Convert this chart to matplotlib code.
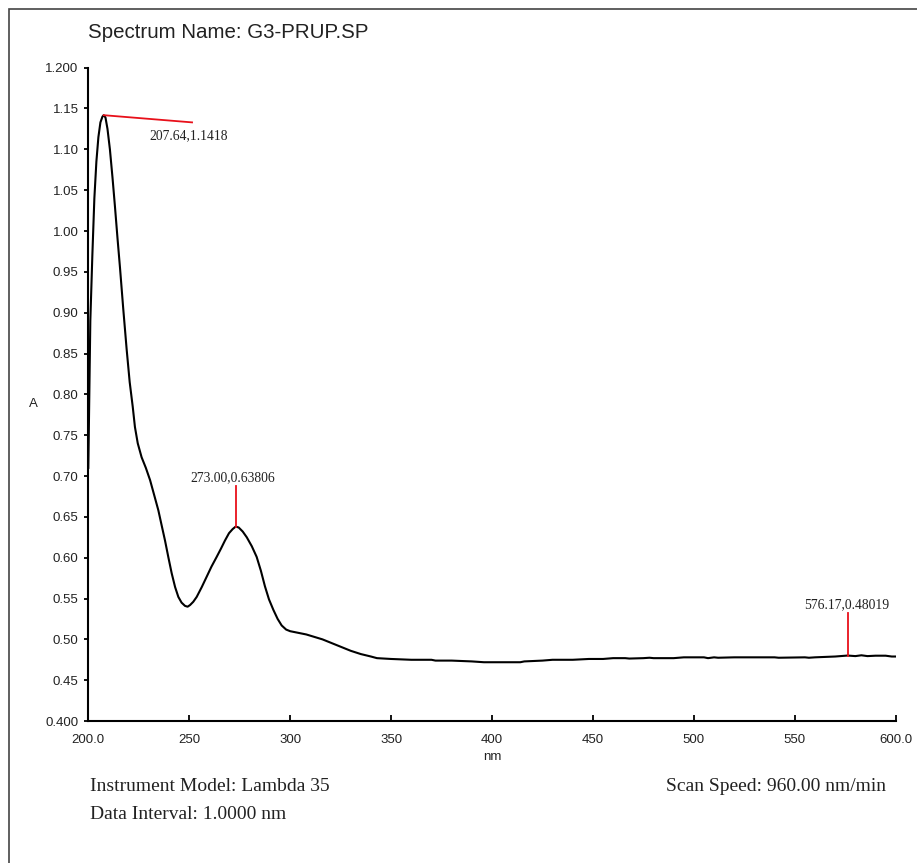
import matplotlib.pyplot as plt
from matplotlib.patches import Rectangle

# ---------------- spectrum data (nm, absorbance) ----------------
wavelength = [200, 201, 202, 203, 204, 205, 206, 207, 207.64, 208.5, 209.5,
              210.7, 212, 213.2, 214.5, 215.7, 217.3, 219, 220.5, 222, 223.1,
              224.5, 226.4, 228.5, 230.6, 232.6, 234.7, 236.3, 238, 239.7,
              241.3, 243, 244.6, 246.2, 247.9, 249.2, 250.4, 252, 253.7, 256.2,
              258.7, 261, 263.6, 265.7, 267.7, 269.7, 271.5, 273, 274.5, 276.5,
              278.5, 281, 283.4, 285.5, 287.5, 289.5, 291.7, 293.8, 295.8, 298,
              300, 304, 308, 312, 316, 320, 325, 330, 335, 340, 343, 350, 360,
              370, 372, 380, 390, 396, 405, 414, 416, 425, 430, 440, 448, 455,
              460, 466, 468, 475, 478, 480, 490, 495, 505, 507, 510, 512, 520,
              540, 542, 555, 557, 560, 565, 570, 576.17, 580, 583, 586, 590, 595,
              598, 600]
absorbance = [0.710, 0.890, 0.970, 1.040, 1.085, 1.115, 1.133, 1.140, 1.1418,
              1.139, 1.125, 1.100, 1.065, 1.030, 0.990, 0.955, 0.905, 0.855,
              0.815, 0.785, 0.760, 0.740, 0.723, 0.710, 0.695, 0.677, 0.658,
              0.640, 0.621, 0.600, 0.581, 0.564, 0.552, 0.545, 0.541, 0.540,
              0.542, 0.546, 0.552, 0.564, 0.577, 0.589, 0.601, 0.611, 0.621,
              0.630, 0.635, 0.63806, 0.637, 0.632, 0.625, 0.614, 0.601, 0.584,
              0.565, 0.549, 0.536, 0.525, 0.517, 0.512, 0.510, 0.508, 0.506,
              0.503, 0.500, 0.496, 0.491, 0.486, 0.482, 0.479, 0.477, 0.476,
              0.475, 0.475, 0.474, 0.474, 0.473, 0.472, 0.472, 0.472, 0.473,
              0.474, 0.475, 0.475, 0.476, 0.476, 0.477, 0.477, 0.4765, 0.477,
              0.4775, 0.477, 0.477, 0.478, 0.478, 0.477, 0.478, 0.4775, 0.478,
              0.478, 0.4775, 0.478, 0.4775, 0.478, 0.4785, 0.479, 0.48019,
              0.4795, 0.4805, 0.4795, 0.480, 0.480, 0.479, 0.479]

# peak picks (nm, A) and their labels
peaks = [(207.64, 1.1418), (273.00, 0.63806), (576.17, 0.48019)]
peak_labels = ["207.64,1.1418", "273.00,0.63806", "576.17,0.48019"]

y_ticks = [0.40, 0.45, 0.50, 0.55, 0.60, 0.65, 0.70, 0.75, 0.80, 0.85, 0.90,
           0.95, 1.00, 1.05, 1.10, 1.15, 1.20]
y_ticklabels = ["0.400", "0.45", "0.50", "0.55", "0.60", "0.65", "0.70",
                "0.75", "0.80", "0.85", "0.90", "0.95", "1.00", "1.05", "1.10",
                "1.15", "1.200"]
x_ticks = [200, 250, 300, 350, 400, 450, 500, 550, 600]
x_ticklabels = ["200.0", "250", "300", "350", "400", "450", "500", "550",
                "600.0"]

sans = "Liberation Sans"
serif = "Liberation Serif"
txt = "#222222"

fig = plt.figure(figsize=(9.17, 8.63), dpi=100)
ax = fig.add_axes([0.0963, 0.1645, 0.8805, 0.7571])

ax.plot(wavelength, absorbance, color="black", lw=1.5, solid_joinstyle="round")

ax.set_xlim(200, 600)
ax.set_ylim(0.40, 1.20)
ax.set_xticks(x_ticks)
ax.set_xticklabels(x_ticklabels, family=sans, fontsize=9.5, color=txt)
ax.set_yticks(y_ticks)
ax.set_yticklabels(y_ticklabels, family=sans, fontsize=9.5, color=txt)
ax.tick_params(axis="y", direction="out", length=3, width=1.3, pad=4)
ax.tick_params(axis="x", direction="in", length=4, width=1.3, pad=9.5)

for side in ["top", "right"]:
    ax.spines[side].set_visible(False)
for side in ["left", "bottom"]:
    ax.spines[side].set_linewidth(1.5)

fig.text(492 / 917, 1 - 757 / 863, "nm", family=sans, fontsize=9.5,
         color=txt, ha="center", va="center")
fig.text(33 / 917, 1 - 404 / 863, "A", family=sans, fontsize=9.5, color=txt,
         ha="center", va="center")

# peak markers
red = "#e8101a"
ax.plot([peaks[0][0], 251.4], [peaks[0][1], 1.133], color=red, lw=1.3)
ax.text(249.5, 1.125, peak_labels[0], family=serif, fontsize=9.8, color=txt,
        ha="center", va="top")
ax.plot([peaks[1][0], peaks[1][0]], [peaks[1][1], 0.688], color=red, lw=1.3)
ax.text(271.8, 0.690, peak_labels[1], family=serif, fontsize=9.8, color=txt,
        ha="center", va="bottom")
ax.plot([peaks[2][0], peaks[2][0]], [peaks[2][1], 0.532], color=red, lw=1.3)
ax.text(575.5, 0.534, peak_labels[2], family=serif, fontsize=9.8, color=txt,
        ha="center", va="bottom")

fig.text(88 / 917, 1 - 33 / 863, "Spectrum Name: G3-PRUP.SP", family=sans,
         fontsize=14.8, color=txt, ha="left", va="center")

fig.text(90 / 917, 1 - 786 / 863, "Instrument Model: Lambda 35", family=serif,
         fontsize=14, color=txt, ha="left", va="center")
fig.text(90 / 917, 1 - 814 / 863, "Data Interval: 1.0000 nm", family=serif,
         fontsize=14, color=txt, ha="left", va="center")
fig.text(886 / 917, 1 - 786 / 863, "Scan Speed: 960.00 nm/min", family=serif,
         fontsize=14, color=txt, ha="right", va="center")

# open frame round the page
fig.patches.append(Rectangle((9 / 917, -0.1), 1.2, 1.1 - 9 / 863,
                             transform=fig.transFigure, fill=False,
                             edgecolor="#444444", lw=1.2))

fig.savefig("out.png", dpi=100)
